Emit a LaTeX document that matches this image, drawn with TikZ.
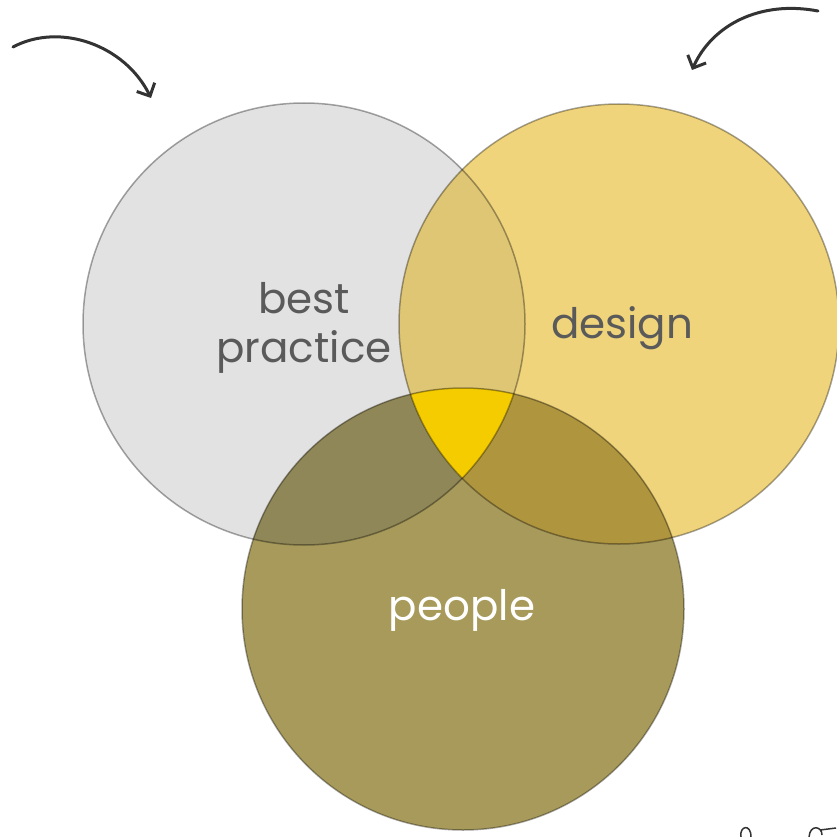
\documentclass[tikz,border=0pt]{standalone}
\usepackage{fontspec}
\setmainfont{Poppins}
\usetikzlibrary{arrows.meta}
\definecolor{cL}{HTML}{E2E2E2}
\definecolor{cR}{HTML}{F0D47B}
\definecolor{cB}{HTML}{A89A5A}
\definecolor{cLR}{HTML}{DFC675}
\definecolor{cLB}{HTML}{8F8757}
\definecolor{cRB}{HTML}{B0953F}
\definecolor{cLRB}{HTML}{F5CC00}
\definecolor{txt}{HTML}{5A5A5A}
\definecolor{ink}{HTML}{333333}
\tikzset{
  ring/.style={draw=black, draw opacity=0.35, line width=1.5pt},
  lbl/.style={font=\fontsize{42}{44}\selectfont, text=txt, align=center, inner sep=0pt},
  doodle/.style={draw=ink, line width=3pt, line cap=round},
  tip/.style={-{Straight Barb[length=10pt,width=20pt,line width=3pt]}}
}
\begin{document}
\begin{tikzpicture}[x=1pt,y=-1pt]
\useasboundingbox (0,0) rectangle (836,837);
\def\cLp{(304,324) circle[radius=221]}
\def\cRp{(619,324) circle[radius=220]}
\def\cBp{(463,609) circle[radius=221]}
\fill[cL] \cLp;
\fill[cR] \cRp;
\fill[cB] \cBp;
\begin{scope}\clip \cLp; \fill[cLR] \cRp; \end{scope}
\begin{scope}\clip \cLp; \fill[cLB] \cBp; \end{scope}
\begin{scope}\clip \cRp; \fill[cRB] \cBp; \end{scope}
\begin{scope}\clip \cLp; \clip \cRp; \fill[cLRB] \cBp; \end{scope}
\draw[ring] \cLp;
\draw[ring] \cRp;
\draw[ring] \cBp;
\node[lbl] (bp) at (304,328) {best\\[5pt]practice};
\node[lbl] (de) at (622,328) {design};
\node[lbl, text=white] (pe) at (462,610) {people};
\coordinate (a1s) at (13,47);
\coordinate (a1e) at (151,98);
\coordinate (a2s) at (818,11);
\coordinate (a2e) at (692,70);
\draw[doodle, tip] (a1s) .. controls (60,22) and (125,45) .. (a1e);
\draw[doodle, tip] (a2s) .. controls (760,0) and (712,25) .. (a2e);
\coordinate (s1) at (741,837);
\coordinate (s2) at (809,837);
\draw[ink, line width=1.5pt] (s1) .. controls (739,826) and (751,823) .. (751,837);
\draw[ink, line width=1.5pt] (s2) .. controls (810,824) and (822,826) .. (822,835) (820,830) -- (836,828);
\end{tikzpicture}
\end{document}
